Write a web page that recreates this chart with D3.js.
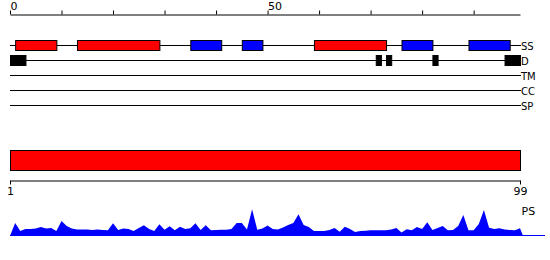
<!DOCTYPE html>
<html><head><meta charset="utf-8">
<script src="https://cdn.jsdelivr.net/npm/d3@7"></script>
<style>body{margin:0;background:#fff}svg{display:block}text{font-family:"DejaVu Sans",sans-serif}</style>
</head><body><svg id="c" width="550" height="260"></svg>
<script>
const rowLabels = ["SS","D","TM","CC","SP"];
const topTicks = [0,10,20,30,40,50,60,70,80,90];
const topLabels = [0,50];
const bottomTicks = [1,99];
const helixSegs = [[1,9],[13,29],[59,73]];
const strandSegs = [[35,41],[45,49],[76,82],[89,97]];
const disorderSegs = [[0,3],[71,72],[73,74],[82,83],[96,99]];
const domainSegs = [[1,99]];
const psValues = [13,5,7,7,7.5,9,7.5,8,5,15,10,7.5,6.5,6.5,6.5,6,6.5,6,5.7,12.7,6,7.5,7,5,8,10.7,7,5,11.7,6.3,9.7,5.7,9.3,7,7.7,12.7,6,10.7,5.7,6,6.3,6.3,7,13,13,6.5,26.7,6.3,7.5,10.5,7,6.5,8.5,11,13,21.7,11,9,5,5,5,6,8,4.3,9.3,7,4,5,5.3,5.7,5.7,5.7,5.7,6.5,8,3.5,6.7,5.7,9,7,13.7,6,8,10,5.7,6,10,21,5.7,5.8,12,26,8.3,7,7.7,6.5,6,5.7,7.7];

const svg = d3.select("#c");
const x = d3.scaleLinear().domain([0,99]).range([10,520]);
const xb = d3.scaleLinear().domain([1,99]).range([10,520]);
const yRow = d3.scalePoint().domain(rowLabels).range([45,105]);
const yPs = d3.scaleLinear().domain([0,30]).range([236,206]);

// top axis
const gTop = svg.append("g").attr("transform","translate(0,14.5)")
  .call(d3.axisTop(x).tickValues(topTicks).tickSize(4).tickSizeOuter(0)
    .tickFormat(d => topLabels.includes(d) ? d : ""));
gTop.selectAll("text").attr("text-anchor","start").attr("y",-4.5).attr("dy",0)
  .style("font-size","11px").style("font-family","DejaVu Sans").attr("fill","#000");
gTop.select(".domain").attr("stroke","#000");
gTop.selectAll(".tick line").attr("stroke","#000");

// row lines
svg.append("g").selectAll("line").data(rowLabels).join("line")
  .attr("x1",x(0)).attr("x2",x(99)+1)
  .attr("y1",d=>yRow(d)+0.5).attr("y2",d=>yRow(d)+0.5)
  .attr("stroke","#000").attr("stroke-width",1);
svg.append("g").selectAll("text").data(rowLabels).join("text")
  .attr("x",x(99)+1).attr("y",d=>yRow(d)+4.5)
  .style("font-size","10px").text(d=>d);

// SS boxes
function boxes(segs,color,row,h,stroke){
  svg.append("g").selectAll("rect").data(segs).join("rect")
    .attr("x",d=>x(d[0])+0.5).attr("width",d=>x(d[1])-x(d[0]))
    .attr("y",yRow(row)-4.5).attr("height",h)
    .attr("fill",color).attr("stroke",stroke).attr("stroke-width",1);
}
boxes(helixSegs,"#ff0000","SS",10,"#000");
boxes(strandSegs,"#0000ff","SS",10,"#000");
boxes(disorderSegs,"#000","D",10,"#000");

// domain bar
svg.append("g").selectAll("rect").data(domainSegs).join("rect")
  .attr("x",d=>xb(d[0])+0.5).attr("width",d=>xb(d[1])-xb(d[0]))
  .attr("y",150.5).attr("height",20)
  .attr("fill","#ff0000").attr("stroke","#000").attr("stroke-width",1);

// bottom axis
const gB = svg.append("g").attr("transform","translate(0,180.5)")
  .call(d3.axisBottom(xb).tickValues(bottomTicks).tickSize(4).tickSizeOuter(0).tickFormat(d3.format("d")));
gB.selectAll("text").attr("y",14.5).attr("dy",0).style("font-size","11px").style("font-family","DejaVu Sans").attr("fill","#000");
gB.select(".domain").attr("stroke","#000");
gB.selectAll(".tick line").attr("stroke","#000");

// PS profile
const psData = [[0,0]].concat(psValues.map((v,i)=>[i+1,v])).concat([[99.6,0]]);
svg.append("line").attr("x1",x(0)).attr("x2",545).attr("y1",235.5).attr("y2",235.5).attr("stroke","#0000ff");
svg.append("path").datum(psData)
  .attr("d",d3.area().x(d=>x(d[0])).y0(yPs(0)).y1(d=>yPs(d[1])))
  .attr("fill","#0000ff");
svg.append("text").attr("x",x(99)+1.5).attr("y",215).style("font-size","11px").text("PS");
</script></body></html>
